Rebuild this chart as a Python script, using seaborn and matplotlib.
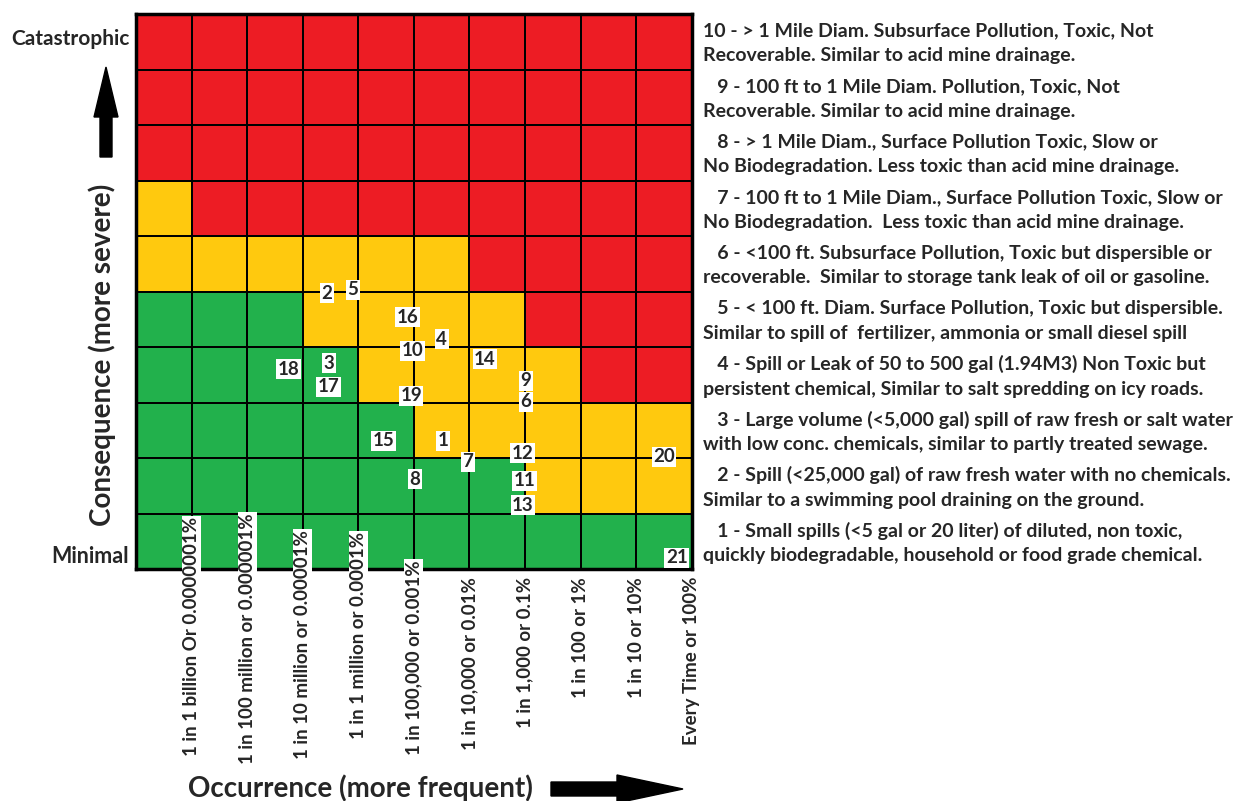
import numpy as np
import pandas as pd
import matplotlib
matplotlib.use("Agg")
import matplotlib.pyplot as plt
import matplotlib.patches as mpatches
from matplotlib.colors import ListedColormap
import seaborn as sns

# zone level per cell (0 = green, 1 = yellow, 2 = red), rows from Minimal (1) up to Catastrophic (10)
zone_rows = [
    [0, 0, 0, 0, 0, 0, 0, 0, 0, 0],
    [0, 0, 0, 0, 0, 0, 0, 1, 1, 1],
    [0, 0, 0, 0, 0, 1, 1, 1, 1, 1],
    [0, 0, 0, 0, 1, 1, 1, 1, 2, 2],
    [0, 0, 0, 1, 1, 1, 1, 2, 2, 2],
    [1, 1, 1, 1, 1, 1, 2, 2, 2, 2],
    [1, 2, 2, 2, 2, 2, 2, 2, 2, 2],
    [2, 2, 2, 2, 2, 2, 2, 2, 2, 2],
    [2, 2, 2, 2, 2, 2, 2, 2, 2, 2],
    [2, 2, 2, 2, 2, 2, 2, 2, 2, 2],
]

occurrence_labels = [
    "1 in 1 billion Or 0.0000001%",
    "1 in 100 million or 0.000001%",
    "1 in 10 million or 0.00001%",
    "1 in 1 million or 0.0001%",
    "1 in 100,000 or 0.001%",
    "1 in 10,000 or 0.01%",
    "1 in 1,000 or 0.1%",
    "1 in 100 or 1%",
    "1 in 10 or 10%",
    "Every Time or 100%",
]

# numbered events: position on the grid (occurrence, consequence)
event_ids = [1, 2, 3, 4, 5, 6, 7, 8, 9, 10, 11, 12, 13, 14, 15, 16, 17, 18, 19, 20, 21]
event_occurrence = [5.52, 3.43, 3.47, 5.50, 3.90, 7.01, 5.97, 5.02, 7.01, 4.98, 6.99,
                    6.96, 6.96, 6.28, 4.46, 4.89, 3.47, 2.75, 4.95, 9.50, 9.73]
event_consequence = [2.31, 4.97, 3.71, 4.14, 5.03, 3.01, 1.93, 1.62, 3.39, 3.93, 1.59,
                     2.09, 1.15, 3.78, 2.31, 4.54, 3.28, 3.60, 3.12, 2.02, 0.20]

consequence_notes = [
    "   1 - Small spills (<5 gal or 20 liter) of diluted, non toxic,\nquickly biodegradable, household or food grade chemical.",
    "   2 - Spill (<25,000 gal) of raw fresh water with no chemicals.\nSimilar to a swimming pool draining on the ground.",
    "   3 - Large volume (<5,000 gal) spill of raw fresh or salt water\nwith low conc. chemicals, similar to partly treated sewage.",
    "   4 - Spill or Leak of 50 to 500 gal (1.94M3) Non Toxic but\npersistent chemical, Similar to salt spredding on icy roads.",
    "   5 - < 100 ft. Diam. Surface Pollution, Toxic but dispersible.\nSimilar to spill of  fertilizer, ammonia or small diesel spill",
    "   6 - <100 ft. Subsurface Pollution, Toxic but dispersible or\nrecoverable.  Similar to storage tank leak of oil or gasoline.",
    "   7 - 100 ft to 1 Mile Diam., Surface Pollution Toxic, Slow or\nNo Biodegradation.  Less toxic than acid mine drainage.",
    "   8 - > 1 Mile Diam., Surface Pollution Toxic, Slow or\nNo Biodegradation. Less toxic than acid mine drainage.",
    "   9 - 100 ft to 1 Mile Diam. Pollution, Toxic, Not\nRecoverable. Similar to acid mine drainage.",
    "10 - > 1 Mile Diam. Subsurface Pollution, Toxic, Not\nRecoverable. Similar to acid mine drainage.",
]

# how far the long occurrence labels reach up into the grid
label_tops = [0.94, 1.01, 0.70, 0.67, 0.16, -0.14, -0.14, -0.14, -0.14, -0.14]

sns.set_style("white")
plt.rcParams["font.family"] = ["Lato", "DejaVu Sans"]

fig = plt.figure(figsize=(12.36, 8.01), dpi=100)
ax = fig.add_axes([0.110, 0.2896, 0.4497, 0.6929])

zones = pd.DataFrame(zone_rows)
cmap = ListedColormap(["#22B14C", "#FFC90E", "#ED1C24"])
sns.heatmap(zones, ax=ax, cmap=cmap, vmin=-0.5, vmax=2.5, cbar=False,
            linewidths=1.1, linecolor="black", xticklabels=False, yticklabels=False)
ax.set_ylim(0, 10)
ax.set_xlim(0, 10)
for s in ax.spines.values():
    s.set_visible(True)
    s.set_linewidth(2.5)
    s.set_color("black")

# numbered events
for n, x, y in zip(event_ids, event_occurrence, event_consequence):
    ax.text(x, y, str(n), ha="center", va="center", fontsize=13.5, fontweight="bold",
            bbox=dict(boxstyle="square,pad=0.08", fc="white", ec="none"))

# occurrence labels along the bottom
for i, (lab, top) in enumerate(zip(occurrence_labels, label_tops)):
    ax.text(i + 1, top, lab, rotation=90, ha="center", va="top", fontsize=13.5,
            fontweight="bold", clip_on=False,
            bbox=dict(boxstyle="square,pad=0.05", fc="white", ec="none"))

# consequence descriptions on the right
for r, note in enumerate(consequence_notes):
    ax.text(10.2, r + 0.47, note, ha="left", va="center", fontsize=14,
            fontweight="bold", linespacing=1.55, clip_on=False)

ax.text(-0.12, 9.55, "Catastrophic", ha="right", va="center", fontsize=15, fontweight="bold")
ax.text(-0.12, 0.22, "Minimal", ha="right", va="center", fontsize=15.5, fontweight="bold")

fig.text(102 / 1236, 1 - 355 / 801, "Consequence (more severe)", rotation=90,
         ha="center", va="center", fontsize=20, fontweight="bold")
fig.text(360 / 1236, 1 - 788 / 801, "Occurrence (more frequent)",
         ha="center", va="center", fontsize=20, fontweight="bold")

# arrows
up = mpatches.FancyArrow(1.06, 6.44, 0, 0.90, width=0.12, head_width=0.24, head_length=0.5,
                         length_includes_head=True, color="black", transform=fig.dpi_scale_trans)
right = mpatches.FancyArrow(5.51, 0.12, 1.32, 0, width=0.14, head_width=0.28, head_length=0.66,
                            length_includes_head=True, color="black", transform=fig.dpi_scale_trans)
fig.add_artist(up)
fig.add_artist(right)

fig.savefig("out.png", dpi=100, facecolor="white")
